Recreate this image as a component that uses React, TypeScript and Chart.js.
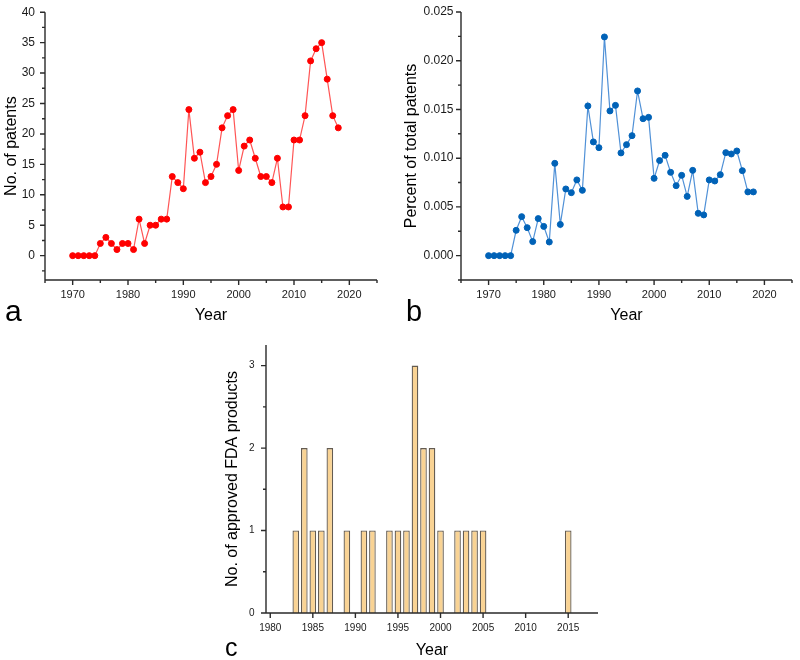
import React, { useEffect, useRef } from 'react';
import { Chart, registerables } from 'chart.js';

Chart.register(...registerables);

// ---------- DATA ----------
const years = [
  1970, 1971, 1972, 1973, 1974, 1975, 1976, 1977, 1978, 1979,
  1980, 1981, 1982, 1983, 1984, 1985, 1986, 1987, 1988, 1989,
  1990, 1991, 1992, 1993, 1994, 1995, 1996, 1997, 1998, 1999,
  2000, 2001, 2002, 2003, 2004, 2005, 2006, 2007, 2008, 2009,
  2010, 2011, 2012, 2013, 2014, 2015, 2016, 2017, 2018,
];

const patentCounts = [
  0, 0, 0, 0, 0, 2, 3, 2, 1, 2,
  2, 1, 6, 2, 5, 5, 6, 6, 13, 12,
  11, 24, 16, 17, 12, 13, 15, 21, 23, 24,
  14, 18, 19, 16, 13, 13, 12, 16, 8, 8,
  19, 19, 23, 32, 34, 35, 29, 23, 21,
];

const percentOfTotal = [
  0, 0, 0, 0, 0, 0.0026, 0.004, 0.00287, 0.00144, 0.0038,
  0.003, 0.0014, 0.00947, 0.0032, 0.00684, 0.00646, 0.00777, 0.0067, 0.01536, 0.01167,
  0.01108, 0.02244, 0.01485, 0.01542, 0.01054, 0.01139, 0.01231, 0.0169, 0.01405, 0.01419,
  0.00793, 0.00975, 0.01029, 0.00855, 0.00718, 0.00824, 0.00608, 0.00875, 0.00434, 0.00418,
  0.00777, 0.00766, 0.00831, 0.01057, 0.01043, 0.01074, 0.00872, 0.00654, 0.00654,
];

const approvalYears = [
  1983, 1984, 1985, 1986, 1987, 1989, 1991, 1992, 1994, 1995,
  1996, 1997, 1998, 1999, 2000, 2002, 2003, 2004, 2005, 2015,
];
const approvals = [1, 2, 1, 1, 2, 1, 1, 1, 1, 1, 1, 3, 2, 2, 1, 1, 1, 1, 1, 1];

// tick values
const yearMajorTicks = [1970, 1980, 1990, 2000, 2010, 2020];
const yearMinorTicks = [1965, 1975, 1985, 1995, 2005, 2015, 2025];
const countMajorTicks = [0, 5, 10, 15, 20, 25, 30, 35, 40];
const countMinorTicks = [-2.5, 2.5, 7.5, 12.5, 17.5, 22.5, 27.5, 32.5, 37.5];
const percentMajorTicks = [0, 0.005, 0.01, 0.015, 0.02, 0.025];
const percentMinorTicks = [-0.0025, 0.0025, 0.0075, 0.0125, 0.0175, 0.0225];
const fdaYearTicks = [1980, 1985, 1990, 1995, 2000, 2005, 2010, 2015];
const fdaMajorTicks = [0, 1, 2, 3];
const fdaMinorTicks = [0.5, 1.5, 2.5];

// ---------- STYLE ----------
const FONT = "'Liberation Sans', Arial, Helvetica, sans-serif";
const TEXT = '#1a1a1a';
const AXIS = '#2a2a2a';

const originAxes = {
  id: 'originAxes',
  afterDraw(chart: any, _args: any, opts: any) {
    const { ctx, chartArea } = chart;
    const xs = chart.scales.x;
    const ys = chart.scales.y;
    const L = chartArea.left;
    const B = chartArea.bottom;
    ctx.save();
    ctx.strokeStyle = AXIS;
    ctx.lineWidth = 1.4;
    ctx.beginPath();
    ctx.moveTo(L, chartArea.top);
    ctx.lineTo(L, B);
    ctx.lineTo(chartArea.right, B);
    const xt = (vals: number[], len: number) =>
      vals.forEach((v) => {
        const p = xs.getPixelForValue(v);
        ctx.moveTo(p, B);
        ctx.lineTo(p, B + len);
      });
    const yt = (vals: number[], len: number) =>
      vals.forEach((v) => {
        const p = ys.getPixelForValue(v);
        ctx.moveTo(L, p);
        ctx.lineTo(L - len, p);
      });
    xt(opts.xMajor || [], 5);
    xt(opts.xMinor || [], 3);
    yt(opts.yMajor || [], 5);
    yt(opts.yMinor || [], 3);
    ctx.stroke();
    if (opts.letter) {
      ctx.fillStyle = '#000';
      ctx.font = `${opts.letterSize}px ${FONT}`;
      ctx.textAlign = 'left';
      ctx.textBaseline = 'alphabetic';
      ctx.fillText(opts.letter, opts.letterX, opts.letterY);
    }
    ctx.restore();
  },
};

function setTicks(values: number[]) {
  return (scale: any) => {
    scale.ticks = values.map((v) => ({ value: v }));
  };
}

function lineConfig(p: {
  xs: number[];
  ys: number[];
  lineColor: string;
  pointColor: string;
  yMin: number;
  yMax: number;
  yMajor: number[];
  yMinor: number[];
  yLabel: (v: number) => string;
  yTitle: string;
  yWidth: number;
  yPad: number;
  padRight: number;
  letter: string;
  letterX: number;
  letterY: number;
  letterSize: number;
}) {
  return {
    type: 'line',
    data: {
      datasets: [
        {
          data: p.xs.map((x, i) => ({ x, y: p.ys[i] })),
          borderColor: p.lineColor,
          borderWidth: 1.2,
          pointRadius: 3,
          pointBorderWidth: 1,
          pointBackgroundColor: p.pointColor,
          pointBorderColor: p.pointColor,
          tension: 0,
          clip: false,
        },
      ],
    },
    options: {
      responsive: false,
      animation: false,
      events: [],
      layout: { padding: { top: 12, right: p.padRight, left: 0, bottom: 0 } },
      plugins: {
        legend: { display: false },
        tooltip: { enabled: false },
        originAxes: {
          xMajor: yearMajorTicks,
          xMinor: yearMinorTicks,
          yMajor: p.yMajor,
          yMinor: p.yMinor,
          letter: p.letter,
          letterX: p.letterX,
          letterY: p.letterY,
          letterSize: p.letterSize,
        },
      },
      scales: {
        x: {
          type: 'linear',
          min: 1965,
          max: 2025,
          afterBuildTicks: setTicks(yearMajorTicks),
          afterFit: (s: any) => {
            s.height = 50;
          },
          grid: { display: false, drawTicks: true, tickLength: 5 },
          border: { display: false },
          ticks: {
            autoSkip: false,
            maxRotation: 0,
            padding: 3,
            color: TEXT,
            font: { family: FONT, size: 11 },
            callback: (v: any) => String(v),
          },
          title: {
            display: true,
            text: 'Year',
            color: '#000',
            font: { family: FONT, size: 16 },
            padding: { top: 0, bottom: 5 },
          },
        },
        y: {
          type: 'linear',
          min: p.yMin,
          max: p.yMax,
          afterBuildTicks: setTicks(p.yMajor),
          afterFit: (s: any) => {
            s.width = p.yWidth;
          },
          grid: { display: false, drawTicks: true, tickLength: 5 },
          border: { display: false },
          ticks: {
            autoSkip: false,
            padding: p.yPad,
            color: TEXT,
            font: { family: FONT, size: 12 },
            callback: (v: any) => p.yLabel(Number(v)),
          },
          title: {
            display: true,
            text: p.yTitle,
            color: '#000',
            font: { family: FONT, size: 16 },
            padding: { top: 2.4, bottom: 0 },
          },
        },
      },
    },
    plugins: [originAxes],
  };
}

const configA = lineConfig({
  xs: years,
  ys: patentCounts,
  lineColor: 'rgb(255,85,85)',
  pointColor: '#ff0000',
  yMin: -4,
  yMax: 40,
  yMajor: countMajorTicks,
  yMinor: countMinorTicks,
  yLabel: (v) => String(v),
  yTitle: 'No. of patents',
  yWidth: 45,
  yPad: 5,
  padRight: 23,
  letter: 'a',
  letterX: 5,
  letterY: 321,
  letterSize: 30,
});

const configB = lineConfig({
  xs: years,
  ys: percentOfTotal,
  lineColor: 'rgb(80,145,215)',
  pointColor: 'rgb(0,98,183)',
  yMin: -0.0025,
  yMax: 0.025,
  yMajor: percentMajorTicks,
  yMinor: percentMinorTicks,
  yLabel: (v) => v.toFixed(3),
  yTitle: 'Percent of total patents',
  yWidth: 61,
  yPad: 2.5,
  padRight: 8,
  letter: 'b',
  letterX: 6,
  letterY: 321,
  letterSize: 29,
});

const configC = {
  type: 'bar',
  data: {
    datasets: [
      {
        data: approvalYears.map((x, i) => ({ x, y: approvals[i] })),
        backgroundColor: 'rgb(249,211,148)',
        borderColor: 'rgb(100,92,82)',
        borderWidth: 1.3,
        barPercentage: 0.78,
        categoryPercentage: 1,
      },
    ],
  },
  options: {
    responsive: false,
    animation: false,
    events: [],
    layout: { padding: { top: 15, right: 22, left: 0, bottom: 0 } },
    plugins: {
      legend: { display: false },
      tooltip: { enabled: false },
      originAxes: {
        xMajor: fdaYearTicks,
        xMinor: [],
        yMajor: fdaMajorTicks,
        yMinor: fdaMinorTicks,
        letter: 'c',
        letterX: 25,
        letterY: 326,
        letterSize: 25,
      },
    },
    scales: {
      x: {
        type: 'linear',
        min: 1979.5,
        max: 2018.5,
        offset: false,
        afterBuildTicks: setTicks(fdaYearTicks),
        afterFit: (s: any) => {
          s.height = 47;
        },
        grid: { display: false, drawTicks: true, tickLength: 5, offset: false },
        border: { display: false },
        ticks: {
          autoSkip: false,
          maxRotation: 0,
          padding: 4,
          color: TEXT,
          font: { family: FONT, size: 10 },
          callback: (v: any) => String(v),
        },
        title: {
          display: true,
          text: 'Year',
          color: '#000',
          font: { family: FONT, size: 16 },
          padding: { top: 0, bottom: 0 },
        },
      },
      y: {
        type: 'linear',
        min: 0,
        max: 3.25,
        afterBuildTicks: setTicks(fdaMajorTicks),
        afterFit: (s: any) => {
          s.width = 66;
        },
        grid: { display: false, drawTicks: true, tickLength: 5 },
        border: { display: false },
        ticks: {
          autoSkip: false,
          padding: 6.5,
          color: TEXT,
          font: { family: FONT, size: 10 },
          callback: (v: any) => String(v),
        },
        title: {
          display: true,
          text: 'No. of approved FDA products',
          color: '#000',
          font: { family: FONT, size: 16 },
          padding: { top: 23.4, bottom: 0 },
        },
      },
    },
  },
  plugins: [originAxes],
};

function Panel({ config, left, top, width, height }: any) {
  const ref = useRef<HTMLCanvasElement>(null);
  useEffect(() => {
    const chart = new Chart(ref.current as HTMLCanvasElement, config as any);
    return () => chart.destroy();
  }, [config]);
  return (
    <canvas
      ref={ref}
      width={width}
      height={height}
      style={{ position: 'absolute', left, top, width, height, display: 'block' }}
    />
  );
}

export default function App() {
  return (
    <div
      style={{
        position: 'absolute',
        left: 0,
        top: 0,
        width: 800,
        height: 660,
        background: '#fff',
        overflow: 'hidden',
      }}
    >
      <Panel config={configA} left={0} top={0} width={400} height={330} />
      <Panel config={configB} left={400} top={0} width={400} height={330} />
      <Panel config={configC} left={200} top={330} width={420} height={330} />
    </div>
  );
}
